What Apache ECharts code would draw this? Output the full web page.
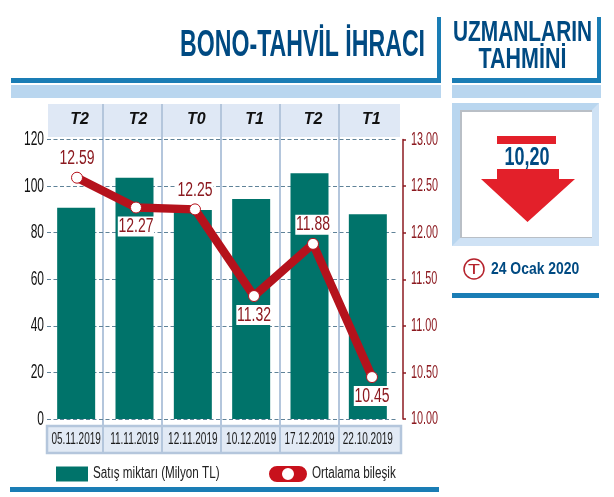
<!DOCTYPE html>
<html><head><meta charset="utf-8">
<script src="https://cdn.jsdelivr.net/npm/echarts@6/dist/echarts.min.js"></script>
<style>html,body{margin:0;padding:0;background:#fff}#c{width:614px;height:497px}</style>
</head><body><div id="c"></div>
<script>
const dates = ['05.11.2019','11.11.2019','12.11.2019','10.12.2019','17.12.2019','22.10.2019'];
const terms = ['T2','T2','T0','T1','T2','T1'];
const sales = [90.7,103.6,89.7,94.5,105.5,87.9];
const rates = [12.59,12.27,12.25,11.32,11.88,10.45];
const labelsBelow = [1,3,5];
const salesName = 'Satış miktarı (Milyon TL)';
const rateName = 'Ortalama bileşik';

const SANS = '"Liberation Sans",sans-serif';
const BLUE='#004a82', LINE='#1a7db5', BAND='#b9d6ef', RED='#e3202a', DARKRED='#8c1a20', LINERED='#b5121c', GREEN='#00736a', DIV='#b4c6dc';
const rect=(x,y,w,h,fill,z=-1)=>({type:'rect',z,shape:{x,y,width:w,height:h},style:{fill},silent:true});
const txt=(x,y,t,font,fill,sx=1,align='left')=>({type:'text',z:5,x,y,scaleX:sx,silent:true,style:{text:t,font,fill,textAlign:align,textVerticalAlign:'middle'}});
const graphic=[
 rect(11,78,430,5,LINE), rect(437,17,4,66,LINE), rect(11,85,430,13,BAND),
 rect(452,78,149,5,LINE), rect(597,17,4,66,LINE), rect(452,85,149,13,BAND),
 rect(48,104,352,33,'#dfe8f5'),
 rect(47,426,354,27,'#e2eaf5'),
 {type:'rect',z:-1,silent:true,shape:{x:47,y:426,width:354,height:27},style:{fill:'none',stroke:DIV,lineWidth:2.5}},
 ...[103,162,221,280,339].map(x=>rect(x-1,104,2,349,DIV)),
 rect(10,487,429,5,LINE),
 // forecast box
 rect(452,103,147,143,'#cfe2f5'),
 {type:'polygon',z:-1,silent:true,shape:{points:[[452,103],[599,103],[591,111],[460,111],[460,238],[452,246]]},style:{fill:'#b9d6ef'}},
 rect(460,110,132,128,'#b9bfc6'),
 rect(462,112,130,125,'#ffffff'),
 rect(497,136,59,8,RED),
 {type:'polygon',z:-1,silent:true,shape:{points:[[497,169],[559,169],[559,179],[575,179],[527.5,222],[481,179],[497,179]]},style:{fill:RED}},
 rect(452,293,147,5,LINE),
 {type:'circle',z:-1,silent:true,shape:{cx:474,cy:269,r:10},style:{fill:'#fff',stroke:'#b5222c',lineWidth:1.5}},
 txt(474,269.5,'T','15px '+SANS,'#b5222c',1.3,'center'),
 txt(425,46,'BONO-TAHVİL İHRACI','bold 37px '+SANS,BLUE,0.625,'right'),
 txt(522.5,33,'UZMANLARIN','bold 29px '+SANS,BLUE,0.72,'center'),
 txt(522.5,60,'TAHMİNİ','bold 29px '+SANS,BLUE,0.74,'center'),
 txt(527,158,'10,20','bold 25px '+SANS,BLUE,0.72,'center'),
 txt(491,269.5,'24 Ocak 2020','bold 16px '+SANS,BLUE,0.87,'left'),
];
const chart=echarts.init(document.getElementById('c'),null,{renderer:'canvas'});
chart.setOption({
 animation:false,
 textStyle:{fontFamily:SANS},
 grid:[{left:47,width:350,top:139.5,height:279.5},{left:47.5,width:354,top:139.5,height:279.5}],
 graphic:{elements:graphic},
 legend:[
  {left:51,top:461,itemWidth:32,itemHeight:15,selectedMode:false,
   data:[{name:salesName,icon:'rect',itemStyle:{color:GREEN}}],
   textStyle:{fontSize:16,color:'#222',fontFamily:SANS}},
  {left:264,top:461,itemWidth:38,itemHeight:16,selectedMode:false,
   data:[{name:rateName,
     icon:'path://M8 0H30A8 8 0 0 1 30 16H8A8 8 0 0 1 8 0ZM19 2A6 6 0 0 0 19 14A6 6 0 0 0 19 2Z',
     itemStyle:{color:'#c8111c',borderWidth:0},lineStyle:{width:0}}],
   textStyle:{fontSize:16,color:'#222',fontFamily:SANS}}
 ],
 xAxis:[
  {type:'category',gridIndex:0,data:dates,position:'bottom',axisLine:{show:false},axisTick:{show:false},
   axisLabel:{margin:12,fontSize:17,color:'#1c1c1c',interval:0,fontFamily:SANS}},
  {type:'category',gridIndex:0,data:terms,position:'top',axisLine:{show:false},axisTick:{show:false},
   axisLabel:{margin:12,fontSize:16,fontWeight:'bold',fontStyle:'italic',color:'#111',interval:0,fontFamily:SANS,padding:[0,0,0,7]}},
  {type:'category',gridIndex:1,data:dates,show:false}
 ],
 yAxis:[
  {type:'value',gridIndex:0,min:0,max:120,interval:20,axisLine:{show:false},axisTick:{show:false},
   axisLabel:{margin:3,fontSize:20,color:'#111',fontFamily:SANS},
   splitLine:{show:true,lineStyle:{color:'#5f8298',type:[4,2.5],width:1.2}}},
  {type:'value',gridIndex:1,min:10,max:13,interval:0.5,position:'right',offset:1.5,
   axisLine:{show:true,lineStyle:{color:DARKRED,width:1.5}},
   axisTick:{show:true,length:3,lineStyle:{color:DARKRED,width:1.5}},
   axisLabel:{margin:8,fontSize:19,color:DARKRED,fontFamily:SANS,formatter:v=>v.toFixed(2)},
   splitLine:{show:false}}
 ],
 series:[
  {name:salesName,type:'bar',data:sales,barWidth:38,itemStyle:{color:GREEN},z:2,xAxisIndex:0,yAxisIndex:0},
  {name:rateName,type:'line',data:rates.map((v,i)=>({value:v,label:{position:labelsBelow.includes(i)?'bottom':'top'}})),
   xAxisIndex:2,yAxisIndex:1,z:3,lineStyle:{color:LINERED,width:8.5},
   symbol:'circle',symbolSize:11,showAllSymbol:true,itemStyle:{color:'#fff',borderColor:LINERED,borderWidth:1},
   label:{show:true,distance:3,fontSize:20,color:DARKRED,backgroundColor:'#fff',padding:[0,1,0,1],fontFamily:SANS,formatter:p=>p.value.toFixed(2)}}
 ]
});
// No condensed face is installed, so squeeze the library's own labels horizontally.
function squeeze(){
 const zr=chart.getZr();
 zr.storage.getDisplayList(true).forEach(el=>{
  [el, el.parent, el.getTextContent&&el.getTextContent()].forEach(t=>{
   if(!t||t.type!=='text'||!t.style||typeof t.style.text!=='string')return;
   const s=t.style.text; let k=0;
   if(/^\d\d\.\d\d\.\d{4}$/.test(s))k=0.59;
   else if(/^\d+$/.test(s))k=0.6;
   else if(/^1\d\.\d\d$/.test(s))k=t.style.fontSize===20?0.7:0.57;
   else if(s===salesName||s===rateName)k=0.73;
   if(k&&t.scaleX!==k){t.scaleX=k;t.originX=t.style.x||0;t.markRedraw();}
  });
 });
 zr.refresh();
}
chart.on('finished',squeeze);
squeeze();
</script></body></html>
